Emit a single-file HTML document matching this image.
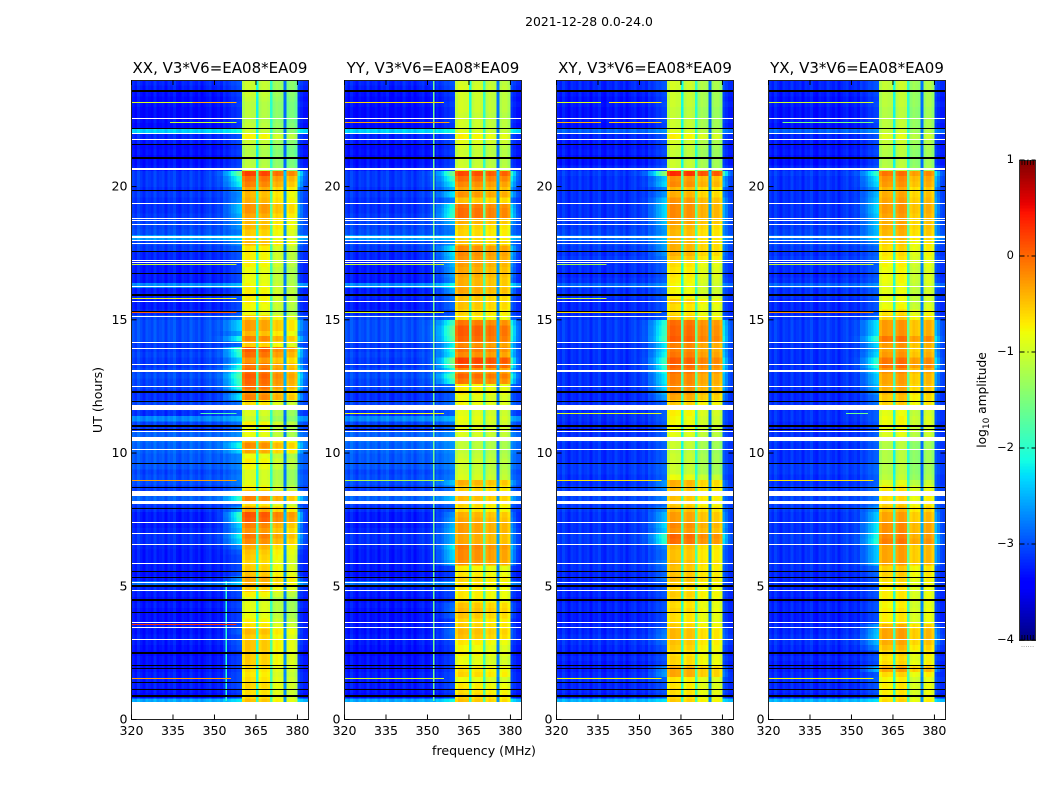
<!DOCTYPE html>
<html>
<head>
<meta charset="utf-8">
<title>2021-12-28 0.0-24.0</title>
<style>
html,body{margin:0;padding:0;background:#fff;}
svg{display:block;font-family:"DejaVu Sans","Liberation Sans",sans-serif;fill:#000;}
</style>
</head>
<body>
<svg id="chart" xmlns="http://www.w3.org/2000/svg" width="1050" height="800" viewBox="0 0 1050 800">
<text x="589" y="26" font-size="12.4" text-anchor="middle">2021-12-28 0.0-24.0</text>
<text x="484" y="755" font-size="12.6" text-anchor="middle">frequency (MHz)</text>
<text transform="translate(102,400) rotate(-90)" font-size="12.6" text-anchor="middle">UT (hours)</text>
<text transform="translate(986,400) rotate(-90)" font-size="12.2" text-anchor="middle">log<tspan font-size="9" dy="3">10</tspan><tspan dy="-3"> amplitude</tspan></text>
<g id="panels"></g>
<g id="colorbar"></g>
</svg>
<script>
const panelTitles = ['XX, V3*V6=EA08*EA09','YY, V3*V6=EA08*EA09','XY, V3*V6=EA08*EA09','YX, V3*V6=EA08*EA09'];
const freqTicks = [320,335,350,365,380];
const hourTicks = [0,5,10,15,20];
const colorTicks = [-4,-3,-2,-1,0,1];

// Estimated log10 amplitude inside the 360-380 MHz band, one value per 0.2 h from 0 h upward.
const bandXX = [-1.1,-1.1,-1.1,-.55,-.7,-.7,-.65,-.7,-.75,-.7,-.6,-.6,-.6,-.55,-.55,-.6,-.5,-.7,-.8,-.9,
-.95,-.95,-1,-.8,-.6,-.45,-.4,-.55,-.6,-.65,-.6,-.55,-.45,-.25,-.15,-.3,-.2,0,.05,-.4,
-.7,-.2,-.3,-.8,-.95,-1,-1,-.85,-.8,-.9,-.4,-.25,-.5,-.9,-.9,-.8,-1.1,-1,-1,-.7,
-.2,-.3,-.1,-.05,0,-.1,-.15,-.3,-.1,0,-.6,-.2,-.5,-.35,-.35,-.6,-.9,-.85,-.8,-.8,
-.8,-.85,-.9,-.9,-.9,-.8,-.8,-.8,-.75,-.5,-.65,-.6,-.5,-.5,-.4,-.3,-.3,-.45,-.5,-.4,
-.2,-.1,.15,-1.15,-1.2,-1.2,-1.25,-1.2,-1.1,-.8,-1.1,-1.15,-1.2,-1.2,-1.2,-1.2,-1.15,-1.1,-1.1,-1.1];
const bandYY = [-1.1,-1.1,-1.1,-.5,-.6,-.65,-.7,-.85,-.6,-.65,-.85,-.85,-.75,-.8,-.7,-.5,-.45,-.55,-.6,-.5,
-.45,-.5,-.7,-.7,-.7,-.65,-.6,-.7,-.75,-.25,-.2,-.2,-.15,-.35,-.35,-.3,-.3,-.35,-.4,-.65,
-.6,-.45,-.6,-.55,-.4,-.95,-1,-1.05,-1,-1.05,-1.1,-1.1,-1.1,-.95,-.9,-.9,-.85,-.9,-.9,-.8,
-.85,-.7,-.75,-.1,0,-.2,.1,.2,-.2,-.1,-.2,0,.05,.05,-.1,-.7,-.6,-.5,-.5,-.5,
-.35,-.4,-.4,-.35,-.35,-.3,-.25,-.2,-.2,-.5,-.6,-.6,-.55,-.4,-.05,-.05,-.1,-.5,-.25,-.35,
-.2,-.05,.15,-1,-1.05,-1,-1.05,-1,-.9,-.75,-.95,-1,-1,-1.05,-1,-1,-1,-1,-.95,-1];
const bandXY = [-1.1,-1.1,-1.1,-.6,-.7,-.7,-.75,-.75,-.4,-.4,-.65,-.65,-.7,-.6,-.55,-.5,-.5,-.6,-.7,-.7,
-.65,-.7,-.65,-.6,-.65,-.6,-.5,-.55,-.55,-.5,-.55,-.55,-.5,-.1,-.05,-.3,-.25,-.35,-.35,-.5,
-.6,-.55,-.6,-.5,-.45,-.9,-1.1,-1.1,-1.1,-1.1,-1.15,-1.1,-1.1,-.95,-.9,-.85,-.85,-.8,-.8,-.6,
-.4,-.3,-.25,-.2,-.2,-.1,-.05,0,-.15,-.2,-.2,0,-.05,-.05,-.1,-.6,-.7,-.7,-.6,-.8,
-.85,-.85,-.8,-.75,-.75,-.7,-.55,-.45,-.45,-.45,-.5,-.5,-.45,-.35,-.25,-.25,-.25,-.3,-.45,-.5,
-.25,-.3,.25,-1.1,-1.1,-1.15,-1.15,-1.1,-1.05,-.8,-1,-1.1,-1.1,-1.15,-1.15,-1.1,-1.1,-1.1,-1.05,-1.05];
const bandYX = [-1.1,-1.1,-1.1,-.6,-.7,-.7,-.7,-.75,-.6,-.3,-.6,-.65,-.6,-.45,-.35,-.3,-.3,-.4,-.7,-.7,
-.7,-.75,-.7,-.7,-.7,-.65,-.6,-.55,-.55,-.3,-.3,-.3,-.3,-.1,-.15,-.2,-.2,-.3,-.3,-.45,
-.55,-.6,-.6,-.7,-.9,-1.1,-1.15,-1.15,-1.15,-1.15,-1.15,-1.15,-1.1,-.9,-.85,-.8,-.8,-.85,-.85,-.55,
-.5,-.4,-.35,-.3,-.3,-.2,-.05,-.05,-.25,-.3,-.25,-.05,-.25,-.25,-.25,-.55,-.65,-.8,-.85,-.85,
-.85,-.85,-.8,-.8,-.8,-.75,-.7,-.65,-.6,-.55,-.45,-.4,-.35,-.35,-.3,-.25,-.25,-.3,-.35,-.4,
-.25,-.2,-.05,-1.1,-1.15,-1.15,-1.15,-1.1,-1.05,-.9,-1.05,-1.1,-1.1,-1.15,-1.15,-1.1,-1.1,-1.1,-1.05,-1.05];

// Estimated off-band sky level per 0.2 h row: parallel hands (XX, YY) and cross hands (XY, YX).
const skyParallel = [-3.25,-3.25,-3.25,-2.55,-3.35,-3.3,-3.25,-3.25,-3.25,-3.3,-3.3,-3.3,-3.35,-3.3,-3.25,-3.25,-3.3,-3.25,-3.3,-3.3,
-3.3,-3.25,-3.3,-3.25,-3.2,-2.85,-3.25,-3.3,-3.25,-3.25,-3.25,-3.25,-3.2,-3.15,-3.15,-3.2,-3.25,-3.25,-3.25,-3.15,
-3.1,-2.9,-3.05,-3.1,-3,-3,-3.05,-2.95,-2.95,-2.95,-2.9,-2.9,-2.85,-2.9,-3.1,-3.05,-2.7,-3.15,-3.1,-3.05,
-3.15,-3.15,-3.05,-3.05,-3,-3.05,-3.1,-3.1,-3.05,-3.1,-3.1,-3,-3,-3,-3,-3.05,-3.2,-3.25,-3.25,-3.2,
-3.25,-2.7,-3.25,-3.25,-3.25,-3.25,-3.2,-3.2,-3.1,-3.05,-2.6,-3,-3.05,-3.05,-3.1,-3.15,-3.15,-3.15,-3.1,-3.15,
-3.1,-3.1,-3.1,-3.25,-3.3,-3.35,-3.3,-3.35,-3.25,-3.2,-2.35,-3.35,-3.3,-3.35,-3.35,-3.3,-3.35,-3.3,-3.25,-3.2];
const skyCross = [-3.15,-3.15,-3.15,-2.5,-3.25,-3.2,-3.2,-3.15,-3.2,-3.25,-3.25,-3.2,-3.25,-3.2,-3.15,-3.15,-3.2,-3.2,-3.25,-3.25,
-3.2,-3.2,-3.25,-3.2,-3.2,-3.15,-3.2,-3.2,-3.15,-3.15,-3.15,-3.15,-3.15,-3.1,-3.1,-3.15,-3.15,-3.15,-3.15,-3.1,
-3.1,-3.05,-3.1,-3.1,-3.15,-3.15,-3.1,-3.1,-3.15,-3.15,-3.15,-3.15,-3.1,-3.15,-3.2,-3.2,-3.15,-3.15,-3.2,-3.15,
-3.2,-3.2,-3.15,-3.15,-3.15,-3.15,-3.15,-3.15,-3.15,-3.15,-3.15,-3.1,-3.1,-3.1,-3.1,-3.15,-3.2,-3.2,-3.2,-3.15,
-3.15,-2.9,-3.15,-3.2,-3.15,-3.15,-3.1,-3.15,-3.1,-3.05,-2.85,-3.05,-3.1,-3.1,-3.15,-3.15,-3.15,-3.15,-3.15,-3.15,
-3.15,-3.15,-3.1,-3.2,-3.3,-3.3,-3.25,-3.3,-3.25,-3.2,-2.9,-3.3,-3.25,-3.3,-3.3,-3.25,-3.3,-3.25,-3.2,-3.2];

// Per-window level offsets for each polarisation.
const windowOffsetXX = [.05,0,-.2,-.35];
const windowOffsetYY = [0,-.05,-.1,-.15];
const windowOffsetXY = [.05,0,-.15,-.2];
const windowOffsetYX = [-.05,0,-.25,-.15];

// Spectral shape of the band, channels 360..379 MHz (the three dip channels are handled below).
const bandShape = [-.1,.05,.05,0,0,0,-.05,.05,.05,0,0,-.05,.05,0,-.05,0,-.05,.05,.05,-.1];
// Channels between spectral windows, and their floor level at zero band power.
const dipChannels = [365,370,375];
const dipFloors = [-1.75,-1.6,-2.45];
// Sky ripple for channels 320..359 MHz, then 380..383 MHz.
const skyRipple = [.05,-.05,.1,0,-.1,.05,0,-.05,.1,-.05,0,.05,-.1,.05,0,.1,-.05,-.1,.05,0,
-.05,.1,0,-.05,.05,-.1,0,.05,.1,-.05,0,.05,-.05,.1,0,.05,.1,.05,.1,.1,.1,.05,0,0];
// How strongly band power leaks into each sky channel (same order as skyRipple).
const leakWeight = [0,0,0,0,0,0,0,0,0,0,0,0,0,0,0,0,0,0,0,0,
0,0,0,0,0,0,0,0,.02,.04,.07,.1,.15,.25,.35,.45,.6,.75,.88,1,.7,.45,.2,.1];

// Flagged intervals, in hours: [start, end]. White = no data, black = zeroed data.
const whiteFlags = [[0,.67],[22.54,22.58],[21.98,22.02],[21.75,21.79],[20.64,20.68],[19.35,19.39],[18.79,18.83],[18.69,18.73],[18.57,18.61],
[18.08,18.16],[17.95,17.99],[17.85,17.89],[17.22,17.26],[17.12,17.16],[16.22,16.26],[15.67,15.71],[15.12,15.16],[14.13,14.17],[13.91,13.95],
[13.31,13.35],[13.05,13.11],[12.48,12.52],[11.6,11.82],[10.78,10.82],[10.46,10.59],[10.12,10.16],[8.39,8.59],[8.09,8.2],[7.38,7.42],[6.97,7.01],
[6.55,6.59],[5.84,5.88],[5.11,5.15],[4.83,4.87],[3.62,3.66],[3.45,3.49],[2.99,3.03]];
const blackFlags = [[23.55,23.61],[22.16,22.2],[21.55,21.61],[21.05,21.11],[19.84,19.88],[17.53,17.57],[16.72,16.76],[15.91,15.95],[15.28,15.32],
[12.27,12.31],[11.93,11.97],[10.98,11.04],[10.87,10.91],[9.57,9.63],[8.68,8.72],[7.9,7.94],[5.53,5.57],[5.32,5.36],[4.98,5.04],[4.45,4.51],
[3.98,4.04],[2.46,2.54],[2,2.04],[1.91,1.95],[1.38,1.42],[1.11,1.15],[.86,.92]];

// Narrow interference: [hour, first channel MHz, last channel MHz, log10 amplitude].
const rfiXX = [[23.17,320,342,-.9],[23.17,342,358,-.4],[22.43,334,358,-1],[17.1,320,358,-1],[15.8,320,358,-.8],[15.3,320,358,.05],[11.5,345,358,-1.8],[9,320,358,-.3],[3.6,320,358,.3],[1.55,320,356,-.3]];
const rfiYY = [[23.17,320,356,-.6],[22.43,320,358,-.3],[17.1,320,356,-1],[15.3,320,356,-.9],[11.5,320,356,-.8],[9,320,356,-1.2],[1.55,320,356,-1]];
const rfiXY = [[23.17,320,336,-.9],[23.17,339,358,-.7],[22.43,320,336,-.4],[22.43,339,358,-.5],[17.1,320,338,-1.2],[15.8,320,338,-1],[15.3,320,358,-.6],[11.5,320,358,-.9],[9,320,358,-.7],[1.55,320,358,-.8]];
const rfiYX = [[23.17,320,358,-1],[22.43,325,358,-1.5],[17.1,320,358,-1],[15.3,320,358,-.2],[11.5,348,356,-1.6],[9,320,358,-.7],[1.55,320,358,-.8]];

// Steady channel spurs: [channel MHz, start hour, end hour, log10 amplitude].
const spursXX = [[354,.7,5.2,-2]];
const spursYY = [[352,.7,24,-1.6]];
const spursXY = [];
const spursYX = [];

const panelBands = [bandXX,bandYY,bandXY,bandYX];
const panelSky = [skyParallel,skyParallel,skyCross,skyCross];
const panelOffsets = [windowOffsetXX,windowOffsetYY,windowOffsetXY,windowOffsetYX];
const panelRfi = [rfiXX,rfiYY,rfiXY,rfiYX];
const panelSpurs = [spursXX,spursYY,spursXY,spursYX];

const NS = 'http://www.w3.org/2000/svg';
const TOP = 80, BOTTOM = 719.5, HOUR_MAX = 24, F0 = 320, F1 = 384, WIDTH = 177;
const ROW_H = .2;
function panelLeft(p){ return Math.round(131.2 + 212.4*p); }
function xScale(p,f){ return panelLeft(p) + .5 + (f-F0)*WIDTH/(F1-F0); }
function yScale(h){ return BOTTOM - h*(BOTTOM-TOP)/HOUR_MAX; }
function lerp(t,pts){
  for(let i=1;i<pts.length;i++){
    if(t<=pts[i][0]){
      const a=pts[i-1],b=pts[i];
      return a[1]+(b[1]-a[1])*(t-a[0])/(b[0]-a[0]);
    }
  }
  return pts[pts.length-1][1];
}
function jet(v){
  const t=Math.max(0,Math.min(1,(v+4)/5));
  const r=lerp(t,[[0,0],[.35,0],[.66,1],[.89,1],[1,.5]]);
  const g=lerp(t,[[0,0],[.125,0],[.375,1],[.64,1],[.91,0],[1,0]]);
  const b=lerp(t,[[0,.5],[.11,1],[.34,1],[.65,0],[1,0]]);
  return 'rgb('+Math.round(r*255)+','+Math.round(g*255)+','+Math.round(b*255)+')';
}
function make(tag,attrs,parent){
  const el=document.createElementNS(NS,tag);
  for(const k in attrs){ el.setAttribute(k,attrs[k]); }
  parent.appendChild(el);
  return el;
}
function windowOf(c){ return c<46?0:c<51?1:c<56?2:3; }
function cellValue(p,row,c){
  const band=panelBands[p][row];
  if(c>=40 && c<60){
    const dip=dipChannels.indexOf(F0+c);
    if(dip>=0){ return dipFloors[dip]+.35*band; }
    return band+panelOffsets[p][windowOf(c)]+bandShape[c-40];
  }
  const k=c<40?c:c-20;
  const leak=leakWeight[k]*(.15+1.8*Math.max(0,band+.6));
  return panelSky[p][row]+skyRipple[k]+leak;
}

const root=document.getElementById('panels');
panelTitles.forEach(function(title,p){
  const g=make('g',{},root);
  
  
  const cw=WIDTH/(F1-F0);
  const rows=panelBands[p].length;
  const cells=make('g',{'shape-rendering':'crispEdges'},g);
  
  
  for(let row=0;row<rows;row++){
    for(let c=0;c<F1-F0;c++){
      const y1=yScale((row+1)*ROW_H), y0=yScale(row*ROW_H);
      const x=xScale(p,F0+c);
      const cell=make('rect',{x:x.toFixed(2),y:y1.toFixed(2),width:(cw+.3).toFixed(2),height:(y0-y1+.3).toFixed(2),fill:jet(cellValue(p,row,c))},cells);
      
      
    }
  }
  panelSpurs[p].forEach(function(s){
    const y1=yScale(s[2]),y0=yScale(s[1]);
    const spur=make('rect',{x:xScale(p,s[0]).toFixed(2),y:y1.toFixed(2),width:(cw*.6).toFixed(2),height:(y0-y1).toFixed(2),fill:jet(s[3]),'shape-rendering':'crispEdges'},g);
    
    
  });
  panelRfi[p].forEach(function(r){
    const x0=xScale(p,r[1]),x1=xScale(p,r[2]);
    const line=make('rect',{x:x0.toFixed(2),y:Math.round(yScale(r[0])),width:(x1-x0).toFixed(2),height:1,fill:jet(r[3]),'shape-rendering':'crispEdges'},g);
    
    
  });
  const x0=xScale(p,F0),x1=xScale(p,F1);
  whiteFlags.forEach(function(f){
    const yt=Math.round(yScale(f[1])),yb=Math.round(yScale(f[0]));
    const flag=make('rect',{x:x0,y:yt,width:x1-x0,height:Math.max(1,yb-yt),fill:'#fff','shape-rendering':'crispEdges'},g);
    
    
  });
  blackFlags.forEach(function(f){
    const yt=Math.round(yScale(f[1])),yb=Math.round(yScale(f[0]));
    const flag=make('rect',{x:x0,y:yt,width:x1-x0,height:Math.max(1,yb-yt),fill:'#000','shape-rendering':'crispEdges'},g);
    
    
  });
  const frame=make('rect',{x:x0,y:TOP+.5,width:x1-x0,height:BOTTOM-TOP-.5,fill:'none',stroke:'#222','stroke-width':1},g);
  
  
  freqTicks.forEach(function(f){
    const x=xScale(p,f);
    const t1=make('line',{x1:x,x2:x,y1:BOTTOM,y2:BOTTOM-5,stroke:'#000','stroke-width':1},g);
    
    
    const t2=make('line',{x1:x,x2:x,y1:TOP,y2:TOP+5,stroke:'#000','stroke-width':1},g);
    
    
    const lab=make('text',{x:x,y:735,'font-size':12.6,'text-anchor':'middle'},g);
    lab.textContent=String(f);
    
    
  });
  hourTicks.forEach(function(h){
    const y=yScale(h);
    const t1=make('line',{x1:x0,x2:x0+5,y1:y,y2:y,stroke:'#000','stroke-width':1},g);
    
    
    const t2=make('line',{x1:x1,x2:x1-5,y1:y,y2:y,stroke:'#000','stroke-width':1},g);
    
    
    const lab=make('text',{x:x0-4,y:y+4,'font-size':12.6,'text-anchor':'end'},g);
    lab.textContent=String(h);
    
    
  });
  const tt=make('text',{x:(x0+x1)/2,y:73,'font-size':15,'text-anchor':'middle'},g);
  tt.textContent=title;
  
  
});

// Colorbar
const cb=document.getElementById('colorbar');
const CB_X=1019.5,CB_W=16,CB_TOP=160,CB_BOT=640,V_MIN=colorTicks[0],V_MAX=colorTicks[colorTicks.length-1];
function cbY(v){ return CB_BOT-(v-V_MIN)*(CB_BOT-CB_TOP)/(V_MAX-V_MIN); }
const STEPS=160;
for(let i=0;i<STEPS;i++){
  const v=V_MIN+(V_MAX-V_MIN)*(i+.5)/STEPS;
  const h=(CB_BOT-CB_TOP)/STEPS;
  const seg=make('rect',{x:CB_X,y:(cbY(v)-h/2).toFixed(2),width:CB_W,height:(h+.3).toFixed(2),fill:jet(v),'shape-rendering':'crispEdges'},cb);
  
  
}
const cbFrame=make('rect',{x:CB_X,y:CB_TOP+.5,width:CB_W,height:CB_BOT-CB_TOP,fill:'none',stroke:'#333','stroke-width':1},cb);


colorTicks.forEach(function(v){
  const y=cbY(v);
  const tick=make('line',{x1:CB_X,x2:CB_X+CB_W,y1:y,y2:y,stroke:'#000','stroke-width':1,'stroke-dasharray':'5 3 1 3 4'},cb);
  
  
  const lab=make('text',{x:1014,y:y+3,'font-size':11.5,'text-anchor':'end'},cb);
  lab.textContent=(v<0?'\u2212':'')+Math.abs(v);
  
  
});
[0,1,2,3,4].forEach(function(i){
  const x=CB_X+2.5+i*2.8;
  const a=make('line',{x1:x,x2:x,y1:CB_TOP,y2:CB_TOP+5,stroke:'#000','stroke-width':.8},cb);
  
  
  const b=make('line',{x1:x,x2:x,y1:CB_BOT,y2:CB_BOT-5,stroke:'#000','stroke-width':.8},cb);
  
  
});
const dots=make('text',{x:CB_X+CB_W/2,y:647,'font-size':7,'text-anchor':'middle',fill:'#888'},cb);
dots.textContent='......';


</script>
</body>
</html>
